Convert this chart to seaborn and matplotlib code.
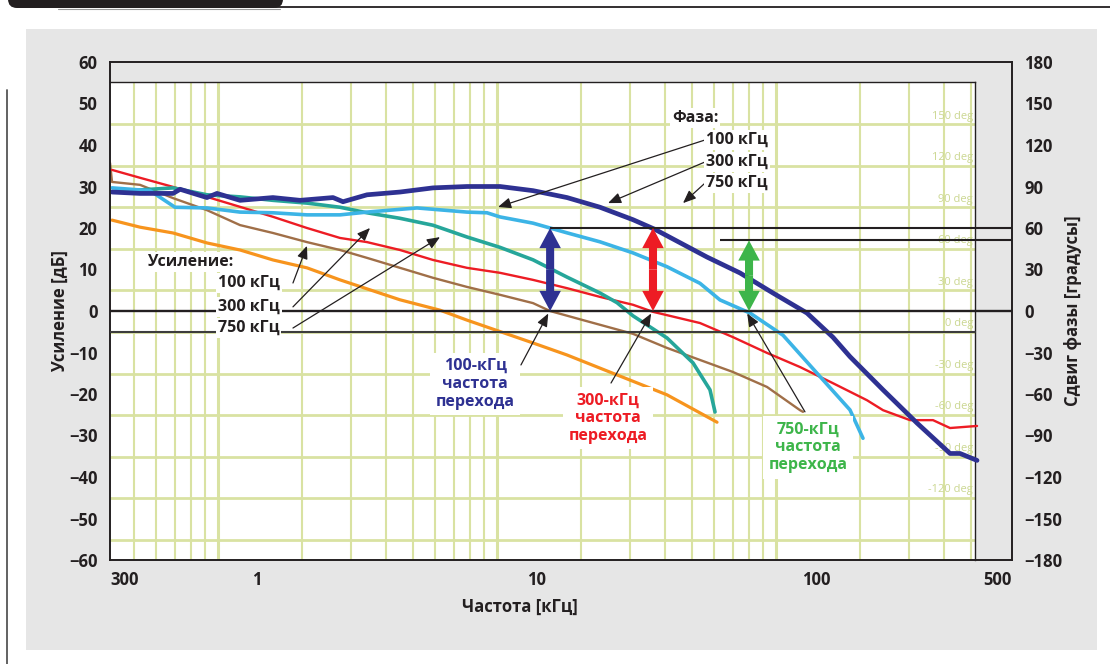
import matplotlib
matplotlib.use("Agg")
import matplotlib.pyplot as plt
import seaborn as sns
from matplotlib.patches import Rectangle, FancyBboxPatch, FancyArrowPatch
from matplotlib.lines import Line2D
from matplotlib.ticker import NullLocator
from matplotlib.transforms import IdentityTransform

# ---- measured loop gain (dB) vs frequency (kHz) ----
gain_100_khz = [0.30, 0.305, 0.384, 0.504, 0.666, 0.874, 1.146, 1.516, 1.989, 2.484, 3.258,
                4.274, 5.653, 7.417, 9.728, 11.19, 14.68, 22.14, 29.29, 38.42, 50.39, 66.66,
                87.45, 89.64]
gain_100_db = [35.7, 31.1, 30.4, 27.2, 24.3, 20.7, 18.8, 16.6, 14.7, 12.8, 10.4,
               8.0, 5.8, 3.9, 1.9, 0.0, -2.2, -5.5, -8.9, -11.8, -14.7, -18.3,
               -23.9, -24.3]

gain_300_khz = [0.305, 0.384, 0.504, 0.666, 0.874, 1.146, 1.516, 1.989, 2.484, 3.258, 4.274,
                5.653, 7.417, 9.728, 12.87, 16.88, 22.14, 26.10, 38.42, 50.39, 66.66, 87.45,
                114.7, 151.7, 173.1, 216.1, 261.1, 300.4, 375.0]
gain_300_db = [34.0, 32.1, 29.9, 27.5, 25.1, 22.7, 20.0, 17.6, 16.6, 14.7, 12.3,
               10.4, 9.2, 7.5, 5.5, 3.4, 1.5, -0.2, -2.9, -6.3, -10.1, -13.5,
               -17.4, -21.5, -23.9, -26.3, -26.3, -28.2, -27.7]

gain_750_khz = [0.305, 0.384, 0.504, 0.666, 0.874, 1.146, 1.516, 1.989, 3.258, 4.527, 5.653,
                9.728, 12.87, 19.42, 29.29, 44.19]
gain_750_db = [21.9, 20.2, 18.8, 16.4, 14.7, 12.3, 10.4, 7.5, 2.7, 0.2, -2.2,
               -7.7, -10.6, -15.4, -20.2, -26.8]

# ---- measured phase (degrees) vs frequency (kHz) ----
phase_100_khz = [0.305, 0.384, 0.417, 0.512, 0.666, 0.874, 1.146, 1.516, 1.989, 2.484, 3.748,
                 5.653, 6.665, 7.417, 9.728, 12.87, 16.88, 22.14, 29.29, 38.42, 45.29, 57.97,
                 76.03, 100.6, 131.9, 146.8]
phase_100_deg = [89, 87.5, 87, 75, 74.5, 71.5, 71, 69.5, 69.5, 71.5, 74.5,
                 71.5, 71, 68, 63.5, 56.5, 50, 42, 32, 20, 8, -1.5,
                 -17.5, -45, -71.5, -92]

phase_300_khz = [0.305, 0.384, 0.504, 0.534, 0.666, 0.723, 0.874, 1.146, 1.432, 1.878, 2.039,
                 2.484, 3.258, 4.274, 5.653, 7.417, 9.728, 12.87, 16.88, 22.14, 26.53, 40.69,
                 53.38, 70.02, 92.63, 114.7, 131.9, 173.1, 228.9, 300.4, 326.1, 375.0]
phase_300_deg = [86, 85, 85, 88, 82, 85, 80, 82, 80, 82, 79,
                 84, 86, 89, 90, 90, 87, 82, 75, 66, 59, 39,
                 27.5, 13, -1.5, -19, -33, -57, -81, -103, -103, -108]

phase_750_khz = [0.305, 0.384, 0.504, 0.666, 0.874, 1.146, 1.516, 1.989, 2.484, 3.258, 4.274,
                 5.653, 7.417, 9.728, 12.87, 16.88, 19.42, 22.14, 25.47, 29.29, 36.27, 41.71,
                 43.47]
phase_750_deg = [86, 87.5, 89, 84, 82.5, 80, 78, 75, 71, 67, 62,
                 53.5, 46, 37, 24.5, 13, 6, -3.5, -11.5, -19.5, -37.5, -57,
                 -73]

# crossover frequencies (kHz) and the phase levels marked above them
crossover_khz = [11.2, 26.1, 57.5]
margin_deg = [60, 60, 51]
crossover_labels = ["100-кГц\nчастота\nперехода", "300-кГц\nчастота\nперехода",
                    "750-кГц\nчастота\nперехода"]

x_ticks = [0.3, 1, 10, 100, 500]
x_tick_labels = ["300", "1", "10", "100", "500"]
gain_ticks = list(range(-60, 61, 10))
phase_ticks = list(range(-180, 181, 30))

# ---- style ----
sns.set_theme(style="white")
plt.rcParams["font.family"] = ["Open Sans", "DejaVu Sans"]
plt.rcParams["font.weight"] = "bold"

INK = "#231f20"
PANEL = "#e6e6e6"
GRID = "#d9e2a2"
GRID_TXT = "#cbd791"
NAVY = "#2e3192"
SKY = "#3cb4e6"
TEAL = "#26a69a"
RED = "#ed1c24"
BROWN = "#a06f48"
ORANGE = "#f7941d"
GREEN = "#3db54a"

W, H = 1110, 664
fig = plt.figure(figsize=(W / 100, H / 100), dpi=100, facecolor="white")


def px_rect(x0, y0, x1, y1):
    """Figure-fraction rectangle from pixel edges measured from the top-left."""
    return [x0 / W, 1 - y1 / H, (x1 - x0) / W, (y1 - y0) / H]


# page furniture: grey panel, header bar, side rule
fig.add_artist(Rectangle((26 / W, 1 - 650 / H), (1097 - 26) / W, (650 - 29) / H,
                         transform=fig.transFigure, facecolor=PANEL, edgecolor="none", zorder=-5))
fig.add_artist(FancyBboxPatch((8, H - 8), 275, 30, boxstyle="round,pad=0,rounding_size=9",
                              transform=IdentityTransform(), facecolor=INK, edgecolor="none"))
fig.add_artist(Line2D([275 / W, 1], [1 - 7 / H] * 2, color=INK, lw=1.3, transform=fig.transFigure))
fig.add_artist(Line2D([58 / W, 280 / W], [1 - 9 / H] * 2, color="#9a9a9a", lw=0.8,
                      transform=fig.transFigure))
fig.add_artist(Line2D([7 / W] * 2, [0, 1 - 90 / H], color="#555555", lw=1.3,
                      transform=fig.transFigure))

# ---- analyser screen with its own log grid ----
ax_s = fig.add_axes(px_rect(110, 82, 975, 560), zorder=0)
ax_s.set_facecolor("white")
ax_s.set_xscale("log")
ax_s.set_xlim(0.41, 516.8)
ax_s.set_ylim(-164.8, 180.7)
for dec in (0.1, 1, 10, 100):
    for k in range(1, 10):
        f = k * dec
        if 0.41 < f < 516.8:
            ax_s.axvline(f, color=GRID, lw=2.2 if k == 1 else 1.5, zorder=0)
for d in range(-150, 151, 30):
    ax_s.axhline(d, color=GRID, lw=2.0, zorder=0)
    if d > -150:
        ax_s.text(508, d + 2, f"{d} deg", ha="right", va="bottom", fontsize=8,
                  fontweight="normal", color=GRID_TXT, zorder=0.5)
ax_s.set_xticks([])
ax_s.set_yticks([])
ax_s.xaxis.set_minor_locator(NullLocator())
for side in ("left", "bottom"):
    ax_s.spines[side].set_visible(False)
for side in ("top", "right"):
    ax_s.spines[side].set_color(INK)
    ax_s.spines[side].set_linewidth(1.0)

# ---- gain axes (left) and phase axes (right) ----
ax = fig.add_axes(px_rect(110, 62, 1012, 560), zorder=1)
ax.patch.set_visible(False)
ax.set_xscale("log")
ax.set_xlim(0.3, 500)
ax.set_ylim(-60, 60)

ax_p = ax.twinx()
ax_p.patch.set_visible(False)
ax_p.set_ylim(-180, 180)

sns.lineplot(x=gain_750_khz, y=gain_750_db, ax=ax, color=ORANGE, lw=2.3)
sns.lineplot(x=gain_100_khz, y=gain_100_db, ax=ax, color=BROWN, lw=1.7)
sns.lineplot(x=gain_300_khz, y=gain_300_db, ax=ax, color=RED, lw=1.7)

sns.lineplot(x=phase_750_khz, y=phase_750_deg, ax=ax_p, color=TEAL, lw=2.6)
sns.lineplot(x=phase_100_khz, y=phase_100_deg, ax=ax_p, color=SKY, lw=2.6)
sns.lineplot(x=phase_300_khz, y=phase_300_deg, ax=ax_p, color=NAVY, lw=3.4)

# reference lines
ax_p.axhline(0, color=INK, lw=1.7, zorder=4)
ax_p.axhline(-15, xmax=865 / 902, color="#3c3c3c", lw=1.5, zorder=4)
ax_p.hlines(margin_deg[0], crossover_khz[0], 500, color=INK, lw=1.5, zorder=4)
ax_p.hlines(margin_deg[2], 45.3, 500, color=INK, lw=1.5, zorder=4)

# phase-margin double arrows at each crossover
for f, m, c in zip(crossover_khz, margin_deg, [NAVY, RED, GREEN]):
    for end in (0, m):
        ax_p.add_patch(FancyArrowPatch(
            (f, m / 2), (f, end),
            arrowstyle="simple,head_length=1.45,head_width=1.55,tail_width=0.58",
            mutation_scale=10, color=c, lw=0, shrinkA=0, shrinkB=0, zorder=6))

# ---- annotations (positions in gain coordinates) ----
tg = ax.transData
box = dict(boxstyle="square,pad=0.12", facecolor="white", edgecolor="none")
arrow = dict(arrowstyle="-|>,head_length=0.65,head_width=0.27", color=INK, lw=0.9,
             shrinkA=0, shrinkB=0, mutation_scale=12)
fs = 11.5

ax_p.text(0.579, 11.8, "Усиление:", transform=tg, ha="center", va="center",
          fontsize=fs, color=INK, bbox=box, zorder=8)
for lbl, y, tip in [("100 кГц", 6.75, (1.516, 15.7)),
                    ("300 кГц", 1.0, (2.546, 20.0)),
                    ("750 кГц", -4.1, (4.527, 17.8))]:
    ax_p.text(0.729, y, lbl, transform=tg, ha="left", va="center",
              fontsize=fs, color=INK, bbox=box, zorder=8)
    ax_p.annotate("", xy=tip, xycoords=tg, xytext=(1.351, y), textcoords=tg,
                  arrowprops=arrow, zorder=7)

ax_p.text(30.5, 46.5, "Фаза:", transform=tg, ha="left", va="center",
          fontsize=fs, color=INK, bbox=box, zorder=8)
for lbl, y, tip in [("100 кГц", 41.2, (7.295, 25.06)),
                    ("300 кГц", 35.9, (18.03, 26.0)),
                    ("750 кГц", 30.8, (33.41, 26.0))]:
    ax_p.text(40.4, y, lbl, transform=tg, ha="left", va="center",
              fontsize=fs, color=INK, bbox=box, zorder=8)
    ax_p.annotate("", xy=tip, xycoords=tg, xytext=(40.0, y), textcoords=tg,
                  arrowprops=arrow, zorder=7)

cross_text = [(6.04, -17.6), (18.0, -25.8), (93.4, -32.8)]
cross_tail = [(8.81, -13.0), (18.48, -17.35), (91.1, -24.3)]
for lbl, (tx, ty), tail, f, c in zip(crossover_labels, cross_text, cross_tail,
                                     crossover_khz, [NAVY, RED, GREEN]):
    ax_p.annotate("", xy=(f * 0.985, -0.6), xycoords=tg, xytext=tail, textcoords=tg,
                  arrowprops=arrow, zorder=7)
    ax_p.text(tx, ty, lbl, transform=tg, ha="center", va="center", multialignment="center",
              fontsize=fs, color=c, linespacing=1.15,
              bbox=dict(boxstyle="square,pad=0.35", facecolor="white", edgecolor="none"),
              zorder=8)

# ---- ticks, spines, labels ----
ax.set_xticks(x_ticks)
ax.set_xticklabels(x_tick_labels)
ax.xaxis.set_minor_locator(NullLocator())
ax.set_yticks(gain_ticks)
ax.set_yticklabels([str(v).replace("-", "\u2212") for v in gain_ticks])
ax_p.set_yticks(phase_ticks)
ax_p.set_yticklabels([str(v).replace("-", "\u2212") for v in phase_ticks])
ax.tick_params(axis="x", length=0, pad=8, labelsize=12, colors=INK)
ax.tick_params(axis="y", length=0, pad=9, labelsize=12, colors=INK)
ax_p.tick_params(axis="y", length=0, pad=9, labelsize=12, colors=INK)
labels = ax.get_xticklabels()
labels[0].set_ha("left")
labels[-1].set_ha("right")
for a in (ax, ax_p):
    a.set_xlabel("")
    a.set_ylabel("")
    for sp in a.spines.values():
        sp.set_color(INK)
        sp.set_linewidth(1.2)

fig.text(60 / W, 1 - 311 / H, "Усиление [дБ]", rotation=90, ha="center", va="center",
         fontsize=12, color=INK)
fig.text(1073 / W, 1 - 311 / H, "Сдвиг фазы [градусы]", rotation=90, ha="center", va="center",
         fontsize=12, color=INK)
fig.text(520 / W, 1 - 607 / H, "Частота [кГц]", ha="center", va="center",
         fontsize=12, color=INK)

fig.savefig("out.png", dpi=100, facecolor="white")
